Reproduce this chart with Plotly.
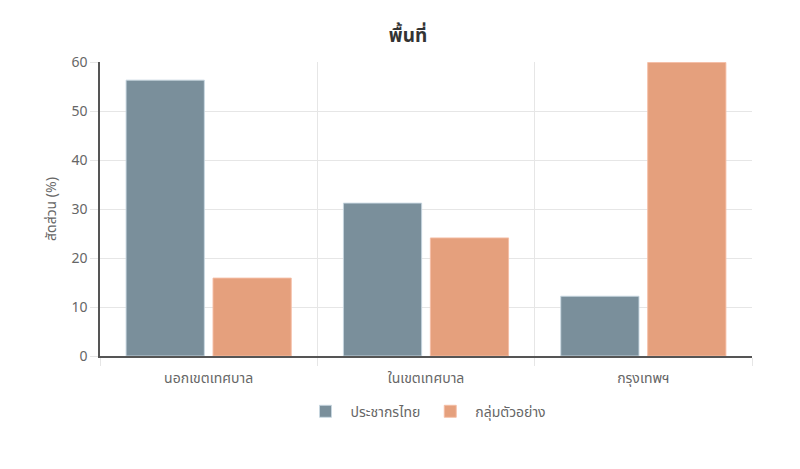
import plotly.graph_objects as go

categories = ["นอกเขตเทศบาล", "ในเขตเทศบาล", "กรุงเทพฯ"]
thai_population = [56.3, 31.2, 12.2]
sample_group = [15.9, 24.1, 59.9]
series_names = ["ประชากรไทย", "กลุ่มตัวอย่าง"]
y_ticks = [0, 10, 20, 30, 40, 50, 60]

FONT = "Noto Sans, Noto Sans Thai, sans-serif"

fig = go.Figure()
fig.add_trace(go.Bar(
    x=categories, y=thai_population, name=series_names[0],
    marker=dict(color="rgb(122,143,155)", line=dict(color="rgba(200,215,225,0.9)", width=1)),
))
fig.add_trace(go.Bar(
    x=categories, y=sample_group, name=series_names[1],
    marker=dict(color="rgb(229,160,125)", line=dict(color="rgba(245,190,165,0.9)", width=1)),
))

fig.update_layout(
    width=800, height=469,
    margin=dict(l=92, r=56, t=54, b=121),
    paper_bgcolor="white", plot_bgcolor="white",
    barmode="group", bargap=0.2, bargroupgap=0.1,
    font=dict(family=FONT, size=14, color="#666666"),
    title=dict(text="<b>พื้นที่</b>", x=0.5, xanchor="center", y=0.942, yanchor="middle",
               font=dict(family=FONT, size=19, color="#333333")),
    legend=dict(orientation="h", x=0.5, xanchor="center", y=-0.135, yanchor="top",
                font=dict(size=14, color="#666666"), itemwidth=40),
    showlegend=True,
)
fig.update_xaxes(
    tickson="boundaries", showgrid=True, gridcolor="#e6e6e6", gridwidth=1,
    showline=True, linecolor="#555555", linewidth=1.5,
    ticks="outside", ticklen=8, tickcolor="#e6e6e6", ticklabelstandoff=8,
    tickfont=dict(size=14, color="#666666"),
)
fig.update_yaxes(
    range=[0, 60], tickvals=y_ticks, showgrid=True, gridcolor="#e6e6e6", gridwidth=1,
    showline=True, linecolor="#555555", linewidth=1.5,
    ticks="outside", ticklen=8, tickcolor="#e6e6e6", zeroline=False,
    tickfont=dict(size=14, color="#666666"),
    title=dict(text="สัดส่วน (%)", font=dict(size=14, color="#666666"), standoff=12),
)

fig.write_html("out.html")
